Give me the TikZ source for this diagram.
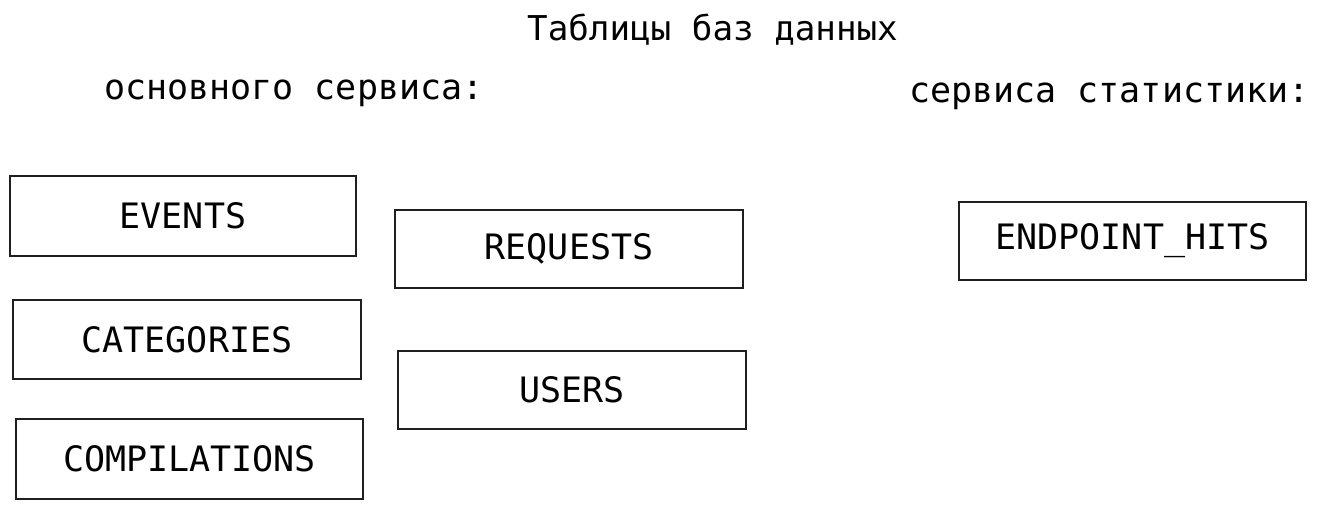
\documentclass[tikz,border=0pt]{standalone}
\usepackage{fontspec}
\setmonofont{DejaVu Sans Mono}
\begin{document}
\begin{tikzpicture}[x=1pt,y=-1pt,
  tbl/.style={draw=black!88, line width=1.3pt, fill=white, inner sep=0pt,
    font=\ttfamily\fontsize{35}{40}\selectfont},
  lbl/.style={inner sep=0pt, anchor=base west, font=\ttfamily\fontsize{35}{40}\selectfont},
  ttl/.style={inner sep=0pt, anchor=base west, font=\ttfamily\fontsize{34.2}{40}\selectfont}]
\useasboundingbox (0,0) rectangle (1321,509);
\fill[white] (0,0) rectangle (1321,509);
\node[ttl] (title) at (527,40) {Таблицы баз данных};
\node[lbl] (main) at (104,99) {основного сервиса:};
\node[lbl] (stat) at (909,102) {сервиса статистики:};
\node[tbl, minimum width=346pt, minimum height=80pt] (events) at (183,216) {EVENTS};
\node[tbl, minimum width=348pt, minimum height=78pt] (requests) at (569,249) {REQUESTS};
\node[tbl, minimum width=348pt, minimum height=79pt] (categories) at (187,339.5) {CATEGORIES};
\node[tbl, minimum width=348pt, minimum height=78pt] (users) at (572,390) {USERS};
\node[tbl, minimum width=347pt, minimum height=80pt] (compilations) at (189.5,459) {COMPILATIONS};
\node[tbl, minimum width=347pt, minimum height=78pt] (hits) at (1132.5,241) {ENDPOINT\_HITS};
\end{tikzpicture}
\end{document}
